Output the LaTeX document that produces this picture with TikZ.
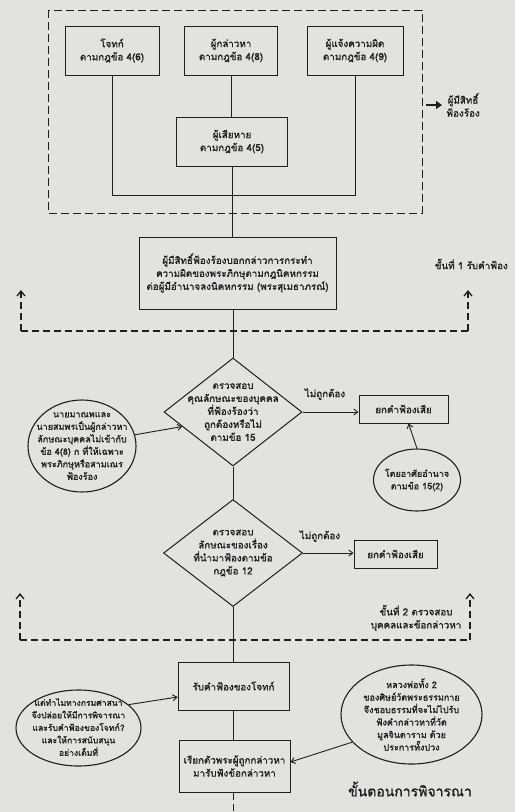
\documentclass[tikz,border=0pt]{standalone}
\usepackage{fontspec}
\newfontfamily\thai[Script=Thai,FakeBold=1.3]{Loma}
\usetikzlibrary{shapes.geometric,arrows.meta}
\definecolor{paper}{RGB}{226,226,223}
\definecolor{ink}{RGB}{30,30,30}
\begin{document}
\begin{tikzpicture}[x=1pt,y=-1pt,
  txt/.style={align=center,font=\thai\fontsize{9.8}{13}\selectfont,text=ink,inner sep=0},
  etxt/.style={txt,font=\thai\fontsize{9}{12.5}\selectfont},
  box/.style={txt,draw=ink,line width=1pt,fill=paper},
  dia/.style={draw=ink,line width=1pt,shape=diamond,inner sep=0},
  ell/.style={draw=ink,line width=1.1pt,shape=ellipse,inner sep=0},
  conn/.style={draw=ink,line width=0.9pt},
  arr/.style={conn,-{Straight Barb[length=4pt,width=6pt]}},
  stage/.style={draw=ink,line width=1.4pt,dash pattern=on 7pt off 4pt},
  stagearr/.style={stage,-{Straight Barb[length=5pt,width=8pt,line width=1.3pt]}}
]
\fill[paper] (0,0) rectangle (515,812);
\useasboundingbox (0,0) rectangle (515,812);

% top group
\draw[stage,line width=1pt,dash pattern=on 8pt off 4pt] (48,10) rectangle (422,213);
\node[box,minimum width=94pt,minimum height=49pt] (n1) at (112,50.5) {โจทก์\\ตามกฎข้อ 4(6)};
\node[box,minimum width=93pt,minimum height=49pt] (n2) at (231,50.5) {ผู้กล่าวหา\\ตามกฎข้อ 4(8)};
\node[box,minimum width=96pt,minimum height=49pt] (n3) at (355,50.5) {ผู้แจ้งความผิด\\ตามกฎข้อ 4(9)};
\node[box,minimum width=111pt,minimum height=49pt] (n4) at (232,141.5) {ผู้เสียหาย\\ตามกฎข้อ 4(5)};
\coordinate (jl) at (112,195);
\coordinate (jr) at (355,195);
\draw[conn] (n1.south) -- (jl) -- (jr) -- (n3.south);
\draw[conn] (n2.south) -- (n2.south |- n4.north);

\draw[-{Triangle[length=6pt,width=8pt]},line width=2pt,draw=ink] (426,105) -- (442,105);
\node[txt] (who) at (463,105) {ผู้มีสิทธิ์\\ฟ้องร้อง};

% step 1
\node[box,minimum width=197pt,minimum height=72pt] (b5) at (237.5,273) {ผู้มีสิทธิ์ฟ้องร้องบอกกล่าวการกระทำ\\ความผิดของพระภิกษุตามกฎนิคหกรรม\\ต่อผู้มีอำนาจลงนิคหกรรม (พระสุเมธาภรณ์)};
\draw[conn] (n4.south) -- (n4.south |- b5.north);
\node[txt,anchor=east] (s1) at (508,264) {ขั้นที่ 1 รับคำฟ้อง};
\coordinate (s1l) at (21,331);
\coordinate (s1r) at (468,331);
\draw[stagearr] (s1l) -- (21,290);
\draw[stagearr] (s1r) -- (468,290);
\draw[stage] (s1l) -- (s1r);

% diamond 1
\node[dia,minimum width=138pt,minimum height=108pt] (d1) at (233,412) {};
\node[txt] (d1t) at (d1) {ตรวจสอบ\\คุณลักษณะของบุคคล\\ที่ฟ้องร้องว่า\\ถูกต้องหรือไม่\\ตามข้อ 15};
\draw[conn] (b5.south -| d1.north) -- (d1.north);
\node[box,minimum width=89pt,minimum height=28pt] (r1) at (403.5,409) {ยกคำฟ้องเสีย};
\draw[arr] (d1.east) -- (d1.east -| r1.west);
\node[txt] (l1) at (325,394) {ไม่ถูกต้อง};
\node[ell,minimum width=87pt,minimum height=62pt] (e1) at (417,480) {};
\node[etxt] (e1t) at (e1) {โดยอาศัยอำนาจ\\ตามข้อ 15(2)};
\draw[arr] (e1.north) -- ([xshift=5pt]r1.south);
\node[ell,minimum width=108pt,minimum height=92pt] (e0) at (82,446) {};
\node[etxt] (e0t) at (e0) {นายมาณพและ\\นายสมพรเป็นผู้กล่าวหา\\ลักษณะบุคคลไม่เข้ากับ\\ข้อ 4(8) ก ที่ให้เฉพาะ\\พระภิกษุหรือสามเณร\\ฟ้องร้อง};
\draw[arr] (e0.12) -- (d1.196);

% diamond 2
\node[dia,minimum width=139pt,minimum height=107pt] (d2) at (233,553) {};
\node[txt] (d2t) at (d2) {ตรวจสอบ\\ลักษณะของเรื่อง\\ที่นำมาฟ้องตามข้อ\\กฎข้อ 12};
\draw[conn] (d1.south) -- (d2.north);
\node[box,minimum width=83pt,minimum height=28pt] (r2) at (395.5,554) {ยกคำฟ้องเสีย};
\draw[arr] (d2.east) -- (d2.east -| r2.west);
\node[txt] (l2) at (320,536) {ไม่ถูกต้อง};

% step 2
\node[txt] (s2) at (416,618) {ขั้นที่ 2 ตรวจสอบ\\บุคคลและข้อกล่าวหา};
\coordinate (s2l) at (20,640);
\coordinate (s2r) at (470,640);
\draw[stagearr] (s2l) -- (20,593);
\draw[stagearr] (s2r) -- (470,593);
\draw[stage] (s2l) -- (s2r);

% bottom
\node[box,minimum width=111pt,minimum height=48pt] (b6) at (233.5,686) {รับคำฟ้องของโจทก์};
\draw[conn] (d2.south) -- (d2.south |- b6.north);
\node[box,minimum width=111pt,minimum height=52pt] (b7) at (234.5,766) {เรียกตัวพระผู้ถูกกล่าวหา\\มารับฟังข้อกล่าวหา};
\draw[conn] (b6.south -| d2.south) -- (b7.north -| d2.south);
\coordinate (bend) at (233,812);
\draw[stage,line width=1pt] (b7.south -| bend) -- (bend);

\node[ell,minimum width=125pt,minimum height=76pt] (e2) at (78.5,728) {};
\node[etxt,font=\thai\fontsize{8.6}{12.5}\selectfont] (e2t) at ([yshift=1pt]e2.center) {แต่ทำไมทางกรมศาสนา\\จึงปล่อยให้มีการพิจารณา\\และรับคำฟ้องของโจทก์?\\และให้การสนับสนุน\\อย่างเต็มที่};
\draw[arr] (e2.25) -- ([yshift=-11pt]b6.west);

\node[ell,minimum width=141pt,minimum height=99pt] (e3) at (411.5,714.5) {};
\node[etxt] (e3t) at (e3) {หลวงพ่อทั้ง 2\\ของศิษย์วัดพระธรรมกาย\\จึงชอบธรรมที่จะไม่ไปรับ\\ฟังคำกล่าวหาที่วัด\\มูลจินดาราม ด้วย\\ประการทั้งปวง};
\draw[arr] (e3.205) -- ([yshift=4pt]b7.east);

\node[txt,font=\thai\fontsize{14}{16}\selectfont] (cap) at (410,789) {ขั้นตอนการพิจารณา};
\end{tikzpicture}
\end{document}
